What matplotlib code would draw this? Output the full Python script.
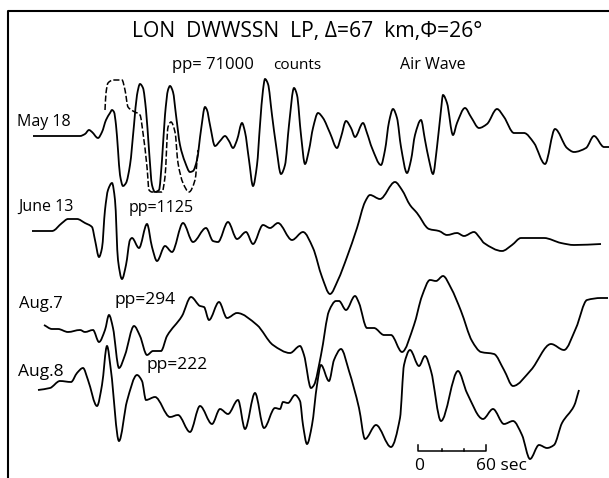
import matplotlib
matplotlib.use('Agg')
import matplotlib.pyplot as plt
from matplotlib.path import Path
from matplotlib.patches import PathPatch

# traces, in figure pixels
may18_x = [33, 80, 85, 89, 92, 98, 102, 106, 110, 112, 114, 116, 118, 120, 123, 126, 130, 134, 137, 140, 143, 146, 149, 152, 155, 159, 162, 165, 168, 170, 173, 176, 180, 185, 190, 193, 197, 201, 205, 207, 210, 215, 220, 225, 229, 233, 237, 242, 245, 249, 253, 257, 260, 263, 265, 268, 272, 276, 281, 285, 289, 294, 297, 301, 305, 309, 313, 318, 323, 330, 337, 341, 346, 351, 355, 363, 367, 372, 381, 385, 389, 393, 397, 401, 407, 411, 415, 421, 425, 429, 433, 437, 441, 443, 447, 453, 457, 465, 471, 479, 487, 497, 504, 514, 524, 534, 545, 555, 567, 574, 586, 594, 604, 609]
may18_y = [136, 136, 134, 130, 132, 138, 132, 120, 113, 110, 112, 125, 150, 175, 186, 183, 165, 125, 95, 84, 88, 110, 150, 185, 192, 190, 160, 115, 90, 86, 92, 115, 145, 162, 172, 171, 160, 130, 107, 110, 125, 146, 141, 136, 141, 148, 140, 123, 132, 160, 186, 165, 125, 90, 79, 84, 115, 145, 174, 165, 125, 88, 95, 135, 164, 150, 128, 113, 118, 133, 148, 137, 121, 128, 137, 123, 133, 148, 165, 150, 122, 109, 118, 147, 173, 160, 135, 120, 140, 160, 174, 147, 110, 95, 103, 135, 123, 108, 117, 128, 124, 109, 117, 133, 133, 143, 164, 129, 148, 152, 148, 136, 147, 147]

dashed_x = [105, 106, 108, 113, 122, 125, 128, 133, 140, 143, 147, 149, 152, 162, 165, 168, 171, 175, 178, 183, 189, 195, 198]
dashed_y = [110, 93, 83, 80, 80, 90, 107, 111, 115, 133, 167, 190, 192, 192, 177, 127, 122, 132, 163, 183, 192, 180, 150]

june13_x = [32, 52, 62, 68, 77, 85, 92, 95, 99, 102, 105, 108, 112, 115, 118, 122, 126, 130, 132, 139, 147, 152, 157, 165, 172, 183, 193, 206, 213, 218, 228, 237, 246, 253, 263, 270, 278, 292, 303, 313, 322, 330, 338, 347, 357, 365, 370, 380, 395, 402, 410, 417, 429, 439, 447, 457, 464, 474, 480, 484, 502, 512, 521, 544, 561, 574, 601]
june13_y = [231, 231, 223, 219, 219, 223, 227, 240, 257, 248, 210, 190, 183, 200, 260, 279, 265, 240, 238, 248, 224, 247, 261, 246, 252, 223, 242, 228, 241, 242, 222, 239, 232, 244, 225, 228, 223, 240, 232, 248, 277, 294, 280, 257, 228, 202, 195, 199, 182, 190, 205, 213, 229, 231, 235, 233, 236, 232, 238, 243, 251, 245, 238, 238, 243, 245, 244]

aug7_x = [44, 52, 58, 68, 80, 85, 93, 99, 105, 109, 113, 119, 125, 134, 140, 147, 153, 161, 167, 182, 191, 200, 204, 209, 219, 227, 237, 257, 273, 290, 300, 304, 311, 314, 321, 329, 336, 339, 346, 355, 359, 367, 374, 384, 391, 402, 414, 422, 430, 436, 443, 451, 461, 472, 481, 494, 504, 513, 531, 551, 564, 576, 587, 601, 608]
aug7_y = [325, 329, 329, 332, 330, 332, 330, 342, 330, 315, 328, 368, 355, 326, 336, 355, 351, 351, 336, 316, 297, 306, 307, 320, 302, 318, 313, 325, 345, 353, 346, 355, 388, 385, 355, 311, 301, 301, 310, 296, 303, 328, 328, 335, 335, 352, 325, 296, 280, 281, 276, 288, 311, 341, 352, 354, 370, 386, 370, 344, 350, 328, 300, 298, 298]

aug8_x = [38, 50, 60, 71, 77, 83, 88, 97, 102, 107, 111, 119, 127, 137, 142, 146, 155, 170, 178, 190, 200, 212, 220, 228, 238, 245, 255, 264, 275, 280, 283, 288, 295, 300, 303, 307, 312, 317, 321, 329, 334, 341, 349, 359, 365, 376, 391, 400, 404, 410, 419, 425, 431, 441, 458, 467, 483, 493, 504, 513, 522, 530, 539, 547, 554, 562, 574, 579]
aug8_y = [390, 388, 381, 382, 373, 368, 380, 406, 385, 346, 371, 441, 401, 375, 381, 400, 397, 417, 415, 432, 406, 424, 409, 414, 400, 429, 393, 428, 408, 409, 402, 403, 395, 401, 425, 444, 425, 385, 365, 381, 360, 349, 371, 408, 439, 425, 447, 418, 365, 350, 366, 356, 371, 421, 371, 393, 419, 409, 424, 421, 435, 459, 445, 448, 445, 423, 406, 390]

trace_labels = ['May 18', 'June 13', 'Aug.7', 'Aug.8']
pp_labels = ['pp= 71000', 'pp=1125', 'pp=294', 'pp=222']


def smooth_path(xs, ys):
    # bezier segments through the read points, flat at each peak so nothing overshoots
    n = len(xs)
    slopes = [(ys[i + 1] - ys[i]) / (xs[i + 1] - xs[i]) for i in range(n - 1)]
    tangents = [slopes[0]]
    for a, b in zip(slopes[:-1], slopes[1:]):
        tangents.append(0 if a * b <= 0 else 2 * a * b / (a + b))
    tangents.append(slopes[-1])
    verts = [(xs[0], ys[0])]
    codes = [Path.MOVETO]
    for i in range(n - 1):
        step = (xs[i + 1] - xs[i]) / 3
        verts.append((xs[i] + step, ys[i] + tangents[i] * step))
        verts.append((xs[i + 1] - step, ys[i + 1] - tangents[i + 1] * step))
        verts.append((xs[i + 1], ys[i + 1]))
        codes += [Path.CURVE4] * 3
    return Path(verts, codes)


plt.rcParams['font.family'] = ['Open Sans', 'DejaVu Sans']

fig = plt.figure(figsize=(6.09, 4.78), dpi=100)
ax = fig.add_axes([0, 0, 1, 1])
ax.set_xlim(0, 609)
ax.set_ylim(478, 0)
ax.axis('off')

# frame, only top and left were printed
ax.plot([8, 8, 609], [478, 11, 11], color='black', lw=1.5)

for xs, ys in [(may18_x, may18_y), (june13_x, june13_y), (aug7_x, aug7_y), (aug8_x, aug8_y)]:
    ax.add_patch(PathPatch(smooth_path(xs, ys), fill=False, color='black', lw=1.3))
ax.add_patch(PathPatch(smooth_path(dashed_x, dashed_y), fill=False, color='black', lw=1.1, ls=(0, (4, 1.5))))

ax.text(307, 31, 'LON  DWWSSN  LP, \u0394=67  km,\u03a6=26\u00b0', fontsize=15.2, ha='center', va='center')
ax.text(172, 65, pp_labels[0], fontsize=12, va='center')
ax.text(273, 65, 'counts', fontsize=11, va='center')
ax.text(400, 65, 'Air Wave', fontsize=11.5, va='center')

ax.text(17, 122, trace_labels[0], fontsize=11.5, va='center')
ax.text(18, 207, trace_labels[1], fontsize=11.5, va='center')
ax.text(19, 304, trace_labels[2], fontsize=12, va='center')
ax.text(18, 372, trace_labels[3], fontsize=12.5, va='center')

ax.text(129, 208, pp_labels[1], fontsize=11.5, va='center')
ax.text(115, 300, pp_labels[2], fontsize=12.5, va='center')
ax.text(146, 365, pp_labels[3], fontsize=12.5, va='center')

# time scale
ax.plot([418, 418, 486, 486], [445, 451, 451, 445], color='black', lw=1.1)
ax.plot([442, 442], [451, 449], color='black', lw=1.1)
ax.plot([464, 464], [451, 449], color='black', lw=1.1)
ax.text(419, 466, '0', fontsize=12.5, ha='center', va='center')
ax.text(476, 466, '60 sec', fontsize=12.5, va='center')

fig.savefig('out.png', dpi=100)
